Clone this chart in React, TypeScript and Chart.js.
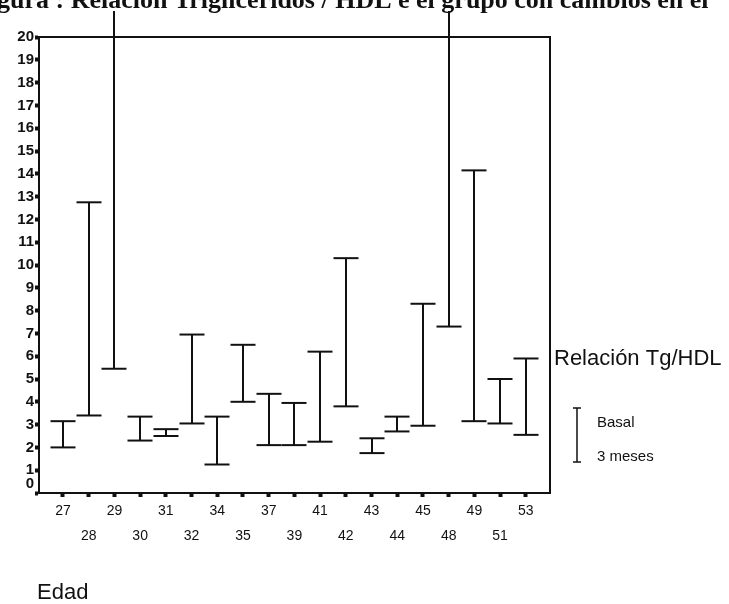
import React, { useEffect, useRef } from 'react';
import { Chart, registerables } from 'chart.js';

Chart.register(...registerables);

// Edad (categories)
const edades: string[] = ['27', '28', '29', '30', '31', '32', '34', '35', '37', '39', '41', '42', '43', '44', '45', '48', '49', '51', '53'];
// Upper end of each range (Basal marker at top)
const basal: number[] = [3.15, 12.75, 21.5, 3.35, 2.8, 6.95, 3.35, 6.5, 4.35, 3.95, 6.2, 10.3, 2.4, 3.35, 8.3, 21.5, 14.15, 5.0, 5.9];
// Lower end of each range (3 meses marker at bottom)
const tresMeses: number[] = [2.0, 3.4, 5.45, 2.3, 2.5, 3.05, 1.25, 4.0, 2.1, 2.1, 2.25, 3.8, 1.75, 2.7, 2.95, 7.3, 3.15, 3.05, 2.55];

const yMin = 0;
const yMax = 20;

const titleText = 'gura : Relación Triglicéridos / HDL e el grupo con cambios en el';
const legendTitle = 'Relación Tg/HDL';
const legendTop = 'Basal';
const legendBottom = '3 meses';
const xTitle = 'Edad';

const W = 729;
const H = 604;

const rangePlugin = {
  id: 'rangeBars',
  afterDatasetsDraw(chart: any) {
    const ctx = chart.ctx as CanvasRenderingContext2D;
    const hi = chart.getDatasetMeta(0).data;
    const lo = chart.getDatasetMeta(1).data;
    const yScale = chart.scales.y;
    ctx.save();
    ctx.beginPath();
    ctx.rect(0, 11, chart.width, chart.height);
    ctx.clip();
    ctx.strokeStyle = '#111';
    ctx.lineWidth = 2;
    const cap = 12.5;
    hi.forEach((p: any, i: number) => {
      const q = lo[i];
      const x = Math.round(p.x);
      ctx.beginPath();
      ctx.moveTo(x, p.y);
      ctx.lineTo(x, q.y);
      ctx.stroke();
      [[p.y, basal[i]], [q.y, tresMeses[i]]].forEach(([py, v]) => {
        if (v <= yScale.max && v >= yScale.min) {
          ctx.beginPath();
          ctx.moveTo(x - cap, py);
          ctx.lineTo(x + cap, py);
          ctx.stroke();
        }
      });
    });
    ctx.restore();
  },
  afterDraw(chart: any) {
    const ctx = chart.ctx as CanvasRenderingContext2D;
    const a = chart.chartArea;
    ctx.save();
    // plot frame
    ctx.strokeStyle = '#111';
    ctx.lineWidth = 2;
    ctx.strokeRect(a.left, a.top, a.right - a.left, a.bottom - a.top);

    // cropped title
    ctx.fillStyle = '#111';
    ctx.font = 'bold 26px "Liberation Serif", serif';
    ctx.textBaseline = 'alphabetic';
    ctx.textAlign = 'left';
    ctx.fillText(titleText, -3, 8);

    // legend
    ctx.font = '22px "Liberation Sans", Arial, sans-serif';
    ctx.textBaseline = 'middle';
    ctx.fillText(legendTitle, 554, 359);
    ctx.lineWidth = 1.5;
    ctx.beginPath();
    ctx.moveTo(577, 408);
    ctx.lineTo(577, 462);
    ctx.moveTo(573, 408);
    ctx.lineTo(581, 408);
    ctx.moveTo(573, 462);
    ctx.lineTo(581, 462);
    ctx.stroke();
    ctx.font = '15px "Liberation Sans", Arial, sans-serif';
    ctx.fillText(legendTop, 597, 423);
    ctx.fillText(legendBottom, 597, 457);

    // axis title
    ctx.font = '22px "Liberation Sans", Arial, sans-serif';
    ctx.fillText(xTitle, 37, 593);
    ctx.restore();
  },
};

export default function App() {
  const ref = useRef<HTMLCanvasElement | null>(null);
  useEffect(() => {
    document.body.style.margin = '0';
    const canvas = ref.current;
    if (!canvas) return;
    const chart = new Chart(canvas, {
      type: 'scatter',
      data: {
        datasets: [
          {
            label: legendTop,
            data: basal.map((v, i) => ({ x: i, y: v })),
            pointRadius: 0,
            showLine: false,
          },
          {
            label: legendBottom,
            data: tresMeses.map((v, i) => ({ x: i, y: v })),
            pointRadius: 0,
            showLine: false,
          },
        ],
      },
      options: {
        responsive: false,
        animation: false,
        devicePixelRatio: 1,
        layout: { padding: { top: 37, right: 179, left: 0, bottom: 0 } },
        plugins: { legend: { display: false }, tooltip: { enabled: false } },
        scales: {
          x: {
            type: 'linear',
            min: -0.933,
            max: 18.94,
            afterBuildTicks: (scale: any) => {
              scale.ticks = edades.map((_, i) => ({ value: i }));
            },
            afterFit: (scale: any) => {
              scale.height = 111;
            },
            ticks: {
              autoSkip: false,
              maxRotation: 0,
              minRotation: 0,
              padding: 2,
              color: '#111',
              font: { family: '"Liberation Sans", Arial, sans-serif', size: 14, lineHeight: 1.75 },
              callback: (value: any, index: number) => {
                const lbl = edades[index];
                return index % 2 === 0 ? lbl : ['', lbl];
              },
            },
            grid: { drawOnChartArea: false, drawTicks: true, tickLength: 4, tickWidth: 4, color: '#111' },
            border: { display: true, color: '#111', width: 2 },
          },
          y: {
            min: yMin,
            max: yMax,
            afterFit: (scale: any) => {
              scale.width = 39;
            },
            ticks: {
              stepSize: 1,
              autoSkip: false,
              padding: 1,
              color: '#111',
              font: { family: '"Liberation Sans", Arial, sans-serif', size: 15, weight: 'bold' },
              callback: (value: any) => (value === 0 ? ['0', ''] : String(value)),
            },
            grid: { drawOnChartArea: false, drawTicks: true, tickLength: 4, tickWidth: 4, color: '#111' },
            border: { display: true, color: '#111', width: 2 },
          },
        },
      },
      plugins: [rangePlugin],
    });
    return () => chart.destroy();
  }, []);
  return (
    <div style={{ width: W, height: H, background: '#fff' }}>
      <canvas ref={ref} width={W} height={H} style={{ display: 'block' }} />
    </div>
  );
}
